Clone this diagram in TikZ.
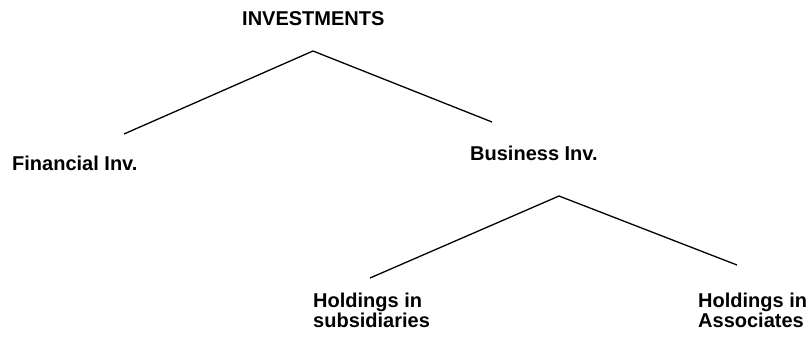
\documentclass[tikz,border=0pt]{standalone}
\usepackage{fontspec}
\setmainfont{Liberation Sans}
\usetikzlibrary{positioning}

\begin{document}
\begin{tikzpicture}[
    x=1pt, y=-1pt,
    % gaya untuk teks (nodes)
    lbl/.style={inner sep=0pt, anchor=base west, align=left,
        font=\bfseries\fontsize{20}{19.5}\selectfont},
    % gaya untuk garis cabang
    branch/.style={line width=1.3pt, draw=black}
]
\useasboundingbox (0,0) rectangle (808,338);

% Menempatkan Nodes (teks)
\node (inv) [lbl] at (242,25) {INVESTMENTS};
\node (fin) [lbl] at (12,170) {Financial Inv.};
\node (bus) [lbl] at (470,160) {Business Inv.};
% base = baris terakhir
\node (sub) [lbl] at (313,327) {Holdings in\\subsidiaries};
\node (asc) [lbl] at (698,327) {Holdings in\\Associates};

% Titik ujung cabang
\coordinate (invtop) at (313,51);
\coordinate (finend) at (124,134);
\coordinate (busend) at (492,122);
\coordinate (bustop) at (559,196);
\coordinate (subend) at (370,278);
\coordinate (ascend) at (737,265);

% Menghubungkan dengan garis
\draw [branch] (finend) -- (invtop) -- (busend);
\draw [branch] (subend) -- (bustop) -- (ascend);

\end{tikzpicture}
\end{document}
